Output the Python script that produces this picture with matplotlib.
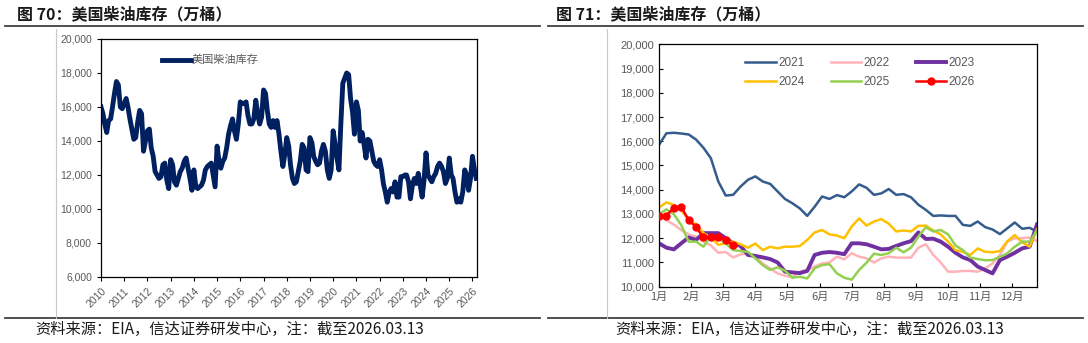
import numpy as np
import pandas as pd
import matplotlib
matplotlib.use("Agg")
import matplotlib.pyplot as plt
from matplotlib.lines import Line2D
from matplotlib.ticker import FuncFormatter

plt.rcParams['font.family'] = ['Liberation Sans', 'Noto Sans CJK SC', 'DejaVu Sans']

# ----------------------------- data: left chart ----------------------------- #
# monthly US distillate stocks (10k barrels), Jan 2010 .. Mar 2026
stock_start = '2010-01-01'
stock_values = [
    16000, 15600, 15000, 14500, 15200, 15300, 16000, 16800, 17500, 17300, 16000, 15900,  # 2010
    16200, 16500, 16000, 15300, 14700, 14100, 14200, 15100, 15800, 15600, 13400, 14000,  # 2011
    14600, 14700, 13600, 13100, 12200, 12000, 11800, 11900, 12600, 12700, 11700, 11200,  # 2012
    12900, 12600, 11600, 11400, 11800, 12200, 12400, 12800, 13000, 12400, 11800, 11100,  # 2013
    12300, 11300, 11200, 11300, 11400, 11700, 12300, 12500, 12600, 12700, 12000, 11300,  # 2014
    13700, 12800, 12400, 12800, 13000, 13600, 14400, 14900, 15300, 14600, 14100, 15000,  # 2015
    16300, 16200, 16200, 16300, 15500, 15000, 15000, 15300, 16400, 15600, 15000, 15400,  # 2016
    17000, 16800, 15800, 15000, 14800, 15200, 14800, 15200, 14400, 13400, 12500, 13200,  # 2017
    14200, 13700, 12600, 11800, 11500, 11600, 12200, 12800, 13800, 13600, 12300, 12200,  # 2018
    14200, 13900, 13100, 12800, 12600, 12700, 13400, 13800, 13400, 12300, 11800, 12300,  # 2019
    14600, 13800, 13000, 12300, 15000, 17400, 17700, 18000, 17900, 16500, 15700, 14400,  # 2020
    16300, 15800, 14000, 14500, 13800, 13000, 14100, 14000, 13400, 12800, 12600, 12500,  # 2021
    12900, 12300, 11500, 11000, 10400, 11000, 11200, 11000, 11600, 10700, 10700, 11900,  # 2022
    11900, 12000, 12000, 11600, 10600, 11400, 11800, 11500, 12100, 11400, 10700, 11700,  # 2023
    13300, 12000, 11800, 11600, 11900, 12100, 12500, 12700, 12500, 12200, 11500, 11800,  # 2024
    13000, 12000, 11800, 11000, 10400, 10600, 10400, 11000, 12300, 12000, 11100, 11800,  # 2025
    13100, 12300, 11800,                                                                  # 2026
]

# ---------------------------- data: right chart ----------------------------- #
# weekly stocks by year (week 0..51)
years = ['2021', '2022', '2023', '2024', '2025', '2026']
stock_2021 = [15850, 16330, 16350, 16320, 16280, 16070, 15730, 15300, 14340, 13760,
              13790, 14130, 14410, 14550, 14340, 14240, 13930, 13620, 13440, 13230,
              12920, 13300, 13720, 13620, 13780, 13690, 13930, 14220, 14080, 13790,
              13850, 14030, 13790, 13820, 13690, 13380, 13170, 12920, 12940, 12920,
              12920, 12550, 12510, 12690, 12460, 12360, 12170, 12410, 12650, 12390,
              12430, 12270]
stock_2022 = [12900, 12750, 12560, 12340, 12160, 12060, 11860, 11700, 11400, 11430,
              11210, 11330, 11400, 11250, 10960, 10750, 10550, 10450, 10400, 10620,
              10690, 10830, 10960, 11000, 11240, 11130, 11380, 11240, 11170, 11000,
              11170, 11240, 11200, 11200, 11200, 11610, 11750, 11310, 11000, 10620,
              10620, 10650, 10650, 10620, 10750, 10960, 11310, 11860, 12000, 12000,
              12030, 11880]
stock_2023 = [11790, 11610, 11540, 11790, 12030, 11930, 12210, 12210, 12210, 12000,
              11790, 11680, 11310, 11270, 11210, 11140, 11000, 10620, 10590, 10560,
              10650, 11310, 11400, 11430, 11400, 11340, 11790, 11790, 11750, 11650,
              11540, 11560, 11680, 11790, 11880, 12240, 11970, 11980, 11860, 11650,
              11400, 11210, 11100, 10830, 10690, 10550, 11100, 11240, 11400, 11580,
              11650, 12570]
stock_2024 = [13260, 13480, 13370, 13160, 12750, 12570, 12210, 12030, 11730, 11790,
              11860, 11750, 11610, 11780, 11510, 11650, 11580, 11650, 11650, 11680,
              11930, 12240, 12340, 12160, 12110, 12000, 12480, 12820, 12520, 12690,
              12790, 12600, 12280, 12320, 12280, 12510, 12520, 12320, 12160, 11860,
              11510, 11440, 11310, 11580, 11440, 11420, 11470, 11880, 12130, 11830,
              11650, 12380]
stock_2025 = [12990, 13190, 12990, 12540, 11860, 11860, 11650, 12110, 12000, 11790,
              11510, 11470, 11440, 11170, 10890, 10690, 10800, 10660, 10370, 10410,
              10340, 10760, 10890, 10930, 10550, 10370, 10290, 10690, 10990, 11360,
              11310, 11380, 11610, 11420, 11610, 12070, 12450, 12280, 12340, 12160,
              11700, 11510, 11200, 11140, 11090, 11100, 11230, 11380, 11650, 11860,
              11860, 12320]
stock_2026 = [12930, 12930, 13260, 13290, 12750, 12460, 12030, 12030, 12070, 11930, 11700]
month_labels = ['1月', '2月', '3月', '4月', '5月', '6月', '7月', '8月', '9月', '10月', '11月', '12月']

title_left = '图 70：美国柴油库存（万桶）'
title_right = '图 71：美国柴油库存（万桶）'
source_text = '资料来源：EIA，信达证券研发中心，注：截至2026.03.13'

# --------------------------------- figure ----------------------------------- #
W, H = 1088, 343
fig = plt.figure(figsize=(W / 100, H / 100), dpi=100)
gray = '#595959'
cjk = ['Noto Sans CJK SC', 'DejaVu Sans']

def px(x, y):
    return x / W, 1 - y / H

# titles, rules and source notes
for x0, x1, tx, sx, title in [(5, 540, 17, 35, title_left), (548, 1083, 556, 615, title_right)]:
    fig.text(*px(tx, 14), title, family=cjk, fontsize=11.5, fontweight='bold',
             color='#1a1a1a', va='center', ha='left')
    fig.add_artist(Line2D([x0 / W, x1 / W], [1 - 25.5 / H] * 2, color='#404040', lw=1.3))
    fig.add_artist(Line2D([x0 / W, x1 / W], [1 - 318 / H] * 2, color='#404040', lw=1.3))
    fig.text(*px(sx, 329), source_text, family=cjk, fontsize=11,
             color='#1a1a1a', va='center', ha='left')

# faint vertical frame lines
for xv in [56, 607]:
    fig.add_artist(Line2D([xv / W] * 2, [1 - 29 / H, 1 - 318 / H], color='#c8c8c8', lw=0.8))

comma = FuncFormatter(lambda v, p: f'{v:,.0f}')

# ------------------------------- left chart --------------------------------- #
axl = fig.add_axes([101 / W, 1 - 277 / H, 376 / W, 238 / H])
dates = pd.date_range(stock_start, periods=len(stock_values), freq='MS')
axl.plot(dates, stock_values, color='#002060', lw=3.5, label='美国柴油库存',
         solid_joinstyle='round')
axl.set_xlim(pd.Timestamp('2010-01-01'), pd.Timestamp('2026-03-13'))
axl.set_ylim(6000, 20000)
axl.set_yticks(np.arange(6000, 20001, 2000))
axl.yaxis.set_major_formatter(comma)
year_ticks = pd.date_range('2010-01-01', '2026-01-01', freq='YS')
axl.set_xticks(year_ticks)
axl.set_xticklabels([str(d.year) for d in year_ticks], rotation=45, ha='right',
                    rotation_mode='anchor')
axl.tick_params(axis='both', colors=gray, labelsize=7.5, length=3, width=0.8,
                direction='out')
axl.tick_params(axis='both', color='black')
for s in axl.spines.values():
    s.set_color('black')
    s.set_linewidth(0.9)
leg = axl.legend(loc='upper left', bbox_to_anchor=(0.135, 0.975), frameon=False,
                 handlelength=2.6, handletextpad=0.1, prop={'family': cjk, 'size': 8})
for t in leg.get_texts():
    t.set_color(gray)

# ------------------------------- right chart -------------------------------- #
axr = fig.add_axes([659 / W, 1 - 286.7 / H, 378 / W, 242.4 / H])
series = [stock_2021, stock_2022, stock_2023, stock_2024, stock_2025, stock_2026]
colors = ['#355C8C', '#FFB3B8', '#7030A0', '#FFC000', '#92D050', '#FF0000']
widths = [1.8, 1.8, 2.8, 1.8, 1.8, 1.8]
handles = {}
for yr, vals, c, lw in zip(years, series, colors, widths):
    wk = np.arange(len(vals))
    if yr == '2026':
        h, = axr.plot(wk, vals, color=c, lw=lw, marker='o', ms=5, zorder=5, label=yr)
    else:
        h, = axr.plot(wk, vals, color=c, lw=lw, label=yr)
    handles[yr] = h
axr.set_xlim(0, 51)
axr.set_ylim(10000, 20000)
axr.set_yticks(np.arange(10000, 20001, 1000))
axr.yaxis.set_major_formatter(comma)
month_pos = np.arange(12) * 52 / 12
axr.set_xticks(month_pos)
axr.set_xticklabels(month_labels, family=cjk)
axr.tick_params(axis='both', colors=gray, labelsize=8, length=3, width=0.8,
                direction='in')
axr.tick_params(axis='both', color='black')
for s in axr.spines.values():
    s.set_color('black')
    s.set_linewidth(0.9)
order = ['2021', '2024', '2022', '2025', '2023', '2026']
legr = axr.legend([handles[k] for k in order], order, ncol=3, loc='upper left',
                  bbox_to_anchor=(0.2, 0.99), frameon=False, handlelength=2.6,
                  handletextpad=0.2, columnspacing=2.2, labelspacing=0.6,
                  prop={'size': 8.5})
for t in legr.get_texts():
    t.set_color(gray)

fig.savefig('out.png', dpi=100)
